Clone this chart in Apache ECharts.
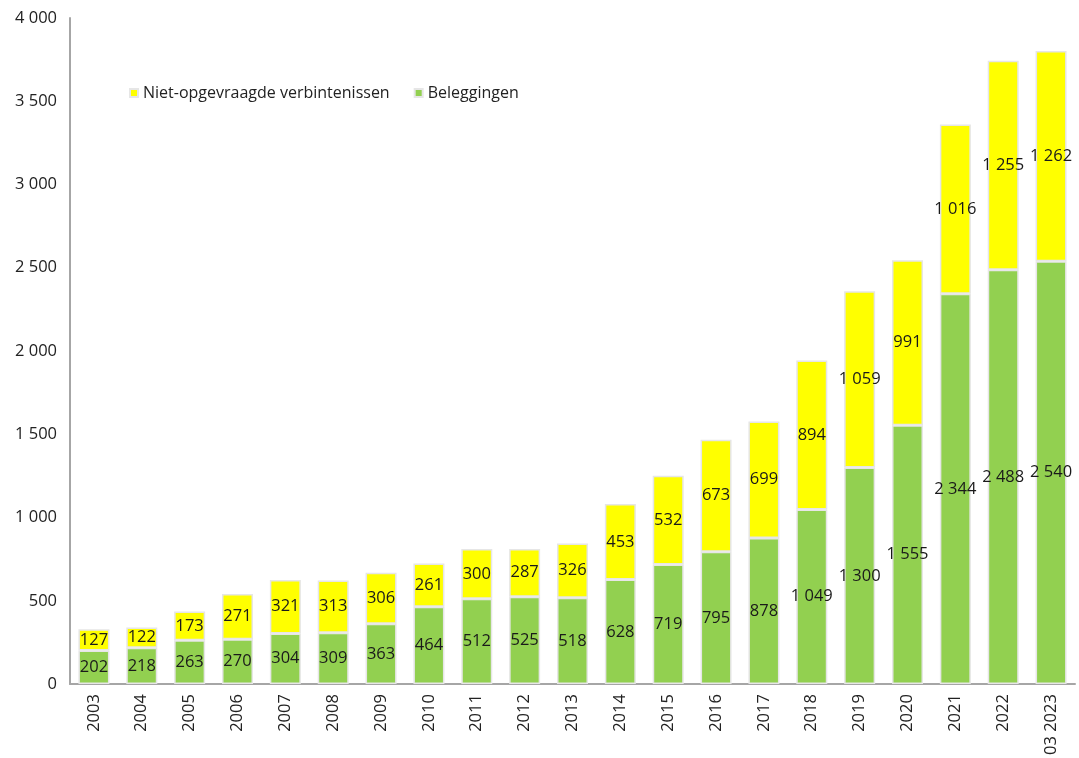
<!DOCTYPE html>
<html><head><meta charset="utf-8">
<script src="https://cdn.jsdelivr.net/npm/echarts@6/dist/echarts.min.js"></script>
<style>html,body{margin:0;padding:0;background:#fff}#c{width:1079px;height:758px}</style>
</head><body><div id="c"></div>
<script>
const categories = ['2003','2004','2005','2006','2007','2008','2009','2010','2011','2012','2013','2014','2015','2016','2017','2018','2019','2020','2021','2022','03 2023'];
const beleggingen = [202,218,263,270,304,309,363,464,512,525,518,628,719,795,878,1049,1300,1555,2344,2488,2540];
const nietOpgevraagd = [127,122,173,271,321,313,306,261,300,287,326,453,532,673,699,894,1059,991,1016,1255,1262];
const yTicks = [0,500,1000,1500,2000,2500,3000,3500,4000];

function fmt(v){ return String(v).replace(/\B(?=(\d{3})+(?!\d))/g,' '); }
const font = 'Open Sans, Noto Sans, sans-serif';
const chart = echarts.init(document.getElementById('c'), null, {renderer:'canvas'});
chart.setOption({
  animation:false,
  grid:{left:70,right:4,top:18,bottom:71,containLabel:false},
  legend:{
    data:['Niet-opgevraagde verbintenissen','Beleggingen'],
    left:124, top:80, itemWidth:8, itemHeight:8, itemGap:24,
    icon:'rect',
    textStyle:{fontFamily:font,fontSize:16,color:'#222'}
  },
  xAxis:{
    type:'category', data:categories,
    axisLine:{lineStyle:{color:'#a6a6a6',width:2}},
    axisTick:{show:false},
    axisLabel:{rotate:90,fontFamily:font,fontSize:16.5,color:'#222',margin:10}
  },
  yAxis:{
    type:'value', min:yTicks[0], max:yTicks[yTicks.length-1], interval:500,
    axisLine:{show:true,lineStyle:{color:'#a6a6a6',width:2}},
    axisTick:{show:false},
    splitLine:{show:false},
    axisLabel:{fontFamily:font,fontSize:16.5,color:'#222',margin:13,formatter:fmt}
  },
  series:[
    {name:'Beleggingen',type:'bar',stack:'t',data:beleggingen,barWidth:31,
     itemStyle:{color:'#92D050',borderColor:'#e6e6e6',borderWidth:1.5},
     label:{show:true,position:'inside',formatter:p=>fmt(p.value),fontFamily:font,fontSize:16.5,color:'#1a1a1a'}},
    {name:'Niet-opgevraagde verbintenissen',type:'bar',stack:'t',data:nietOpgevraagd,barWidth:31,
     itemStyle:{color:'#FFFF00',borderColor:'#e6e6e6',borderWidth:1.5},
     label:{show:true,position:'inside',formatter:p=>fmt(p.value),fontFamily:font,fontSize:16.5,color:'#1a1a1a'}}
  ]
});
</script></body></html>
